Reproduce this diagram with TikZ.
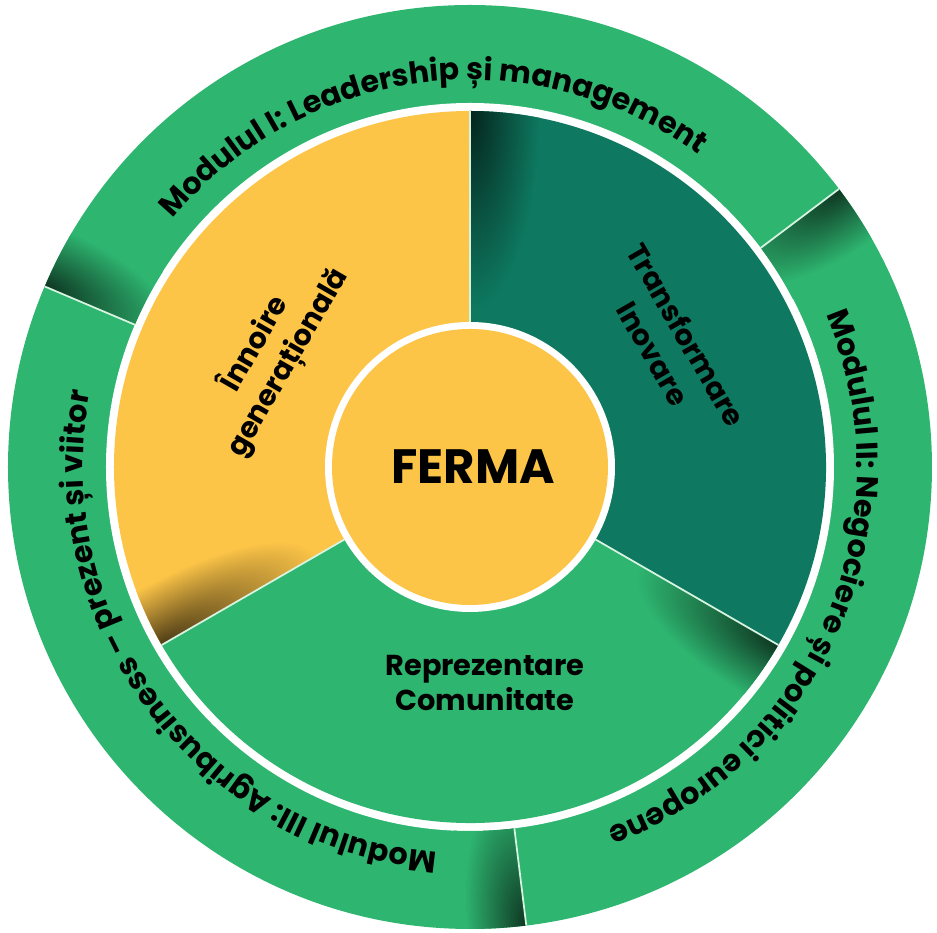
\documentclass[tikz,border=0pt]{standalone}
\usepackage{fontspec}
\usepackage{xcolor}
\usetikzlibrary{decorations.text}
\newfontfamily\lblfont{Poppins SemiBold}
\newfontfamily\bigfont{Poppins Bold}
\newcommand\ringfont{\bigfont\fontsize{8.6}{10}\selectfont}
\definecolor{ringgreen}{RGB}{46,181,112}
\definecolor{deepgreen}{RGB}{14,121,96}
\definecolor{sunyellow}{RGB}{253,197,72}
\definecolor{seplinecol}{RGB}{214,244,224}
\tikzset{
  sepline/.style={draw=seplinecol, line width=0.5pt},
  lbl/.style={font=\bigfont\fontsize{8.2}{10.8}\selectfont, align=center, text=black},
  ringtext/.style={decorate, decoration={text along path, text align=center, text={|\ringfont|#1}}}
}
\begin{document}
\begin{tikzpicture}
    \useasboundingbox (-4.70,-4.66) rectangle (4.67,4.67);
    % Outer ring
    \fill[ringgreen] (0,0) circle (4.62);
    \fill[white] (0,0) circle (3.64);
    % Sectors
    \fill[sunyellow] (0,0) -- (90:3.56) arc[start angle=90, end angle=210, radius=3.56] -- cycle;
    \fill[ringgreen] (0,0) -- (210:3.56) arc[start angle=210, end angle=330, radius=3.56] -- cycle;
    \fill[deepgreen] (0,0) -- (330:3.56) arc[start angle=330, end angle=450, radius=3.56] -- cycle;
    % Shadows
    \foreach \ang/\rin/\rout/\col/\len/\wid in {37/3.64/4.62/ringgreen/0.7/0.3,
        157/3.64/4.62/ringgreen/0.7/0.3, 277/3.64/4.62/ringgreen/0.7/0.3,
        90/1.45/3.56/deepgreen/1.0/0.35, 210/1.45/3.56/sunyellow/0.9/0.3,
        330/1.45/3.56/ringgreen/0.8/0.3}{
      \begin{scope}[transform canvas={rotate=\ang}]
        \clip (0:\rin) -- (0:\rout) arc[start angle=0, end angle=-20, radius=\rout]
          -- (-20:\rin) arc[start angle=-20, end angle=0, radius=\rin] -- cycle;
        \shade[inner color=black!70!\col, outer color=\col] (\rout-2*\len,-2*\wid) rectangle (\rout+2*\len,2*\wid);
      \end{scope}
    }
    % Separators
    \foreach \ang in {37,157,277} \draw[sepline] (\ang:3.64) -- (\ang:4.62);
    \foreach \ang in {90,210,330} \draw[sepline] (\ang:1.45) -- (\ang:3.56);
    % Centre
    \fill[white] (0,0) circle (1.45);
    \fill[sunyellow] (0,0) circle (1.38);
    \node[font=\bigfont\fontsize{13.7}{15}\selectfont] (ferma) at (0.03,0) {FERMA};
    % Sector labels
    \node[lbl, rotate=60] (innoire) at (-1.99,1.14) {Înnoire\\generațională};
    \node[lbl, rotate=-60] (transf) at (2.00,1.23) {Transformare\\Inovare};
    \node[lbl, font=\bigfont\fontsize{8.2}{8.6}\selectfont] (reprez) at (0.15,-2.16) {Reprezentare\\Comunitate};
    % Ring labels
    \path[ringtext=Modulul I: Leadership și management] (157:3.87) arc[start angle=157, end angle=37, radius=3.87];
    \path[ringtext=Modulul II: Negociere și politici europene] (37:3.87) arc[start angle=37, end angle=-83, radius=3.87];
    \path[ringtext=Modulul III: Agribusiness – prezent și viitor] (277:3.87) arc[start angle=277, end angle=157, radius=3.87];
\end{tikzpicture}
\end{document}
